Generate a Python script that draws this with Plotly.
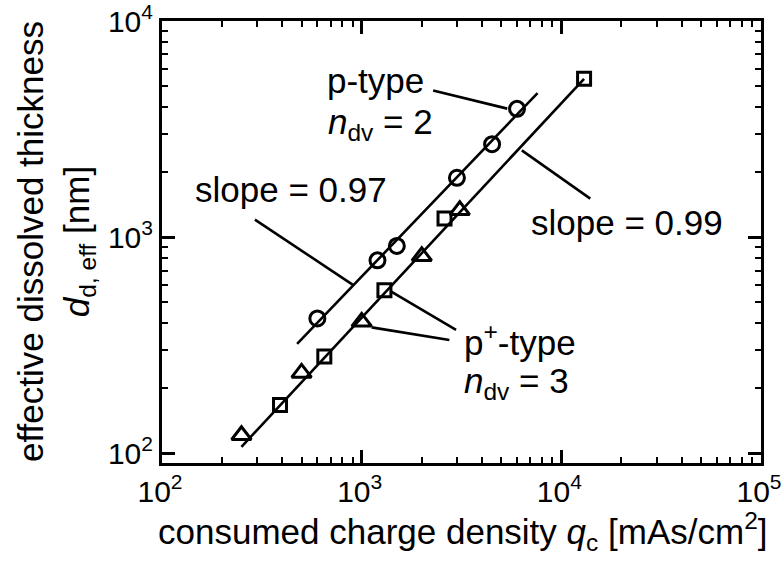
import math
import plotly.graph_objects as go

# ---------------- data ----------------
p_q = [600, 1200, 1500, 3000, 4500, 6000]          # p-type, circles
p_d = [420, 780, 910, 1880, 2690, 3920]

pp_sq_q = [390, 650, 1300, 2600, 13000]            # p+-type, squares
pp_sq_d = [167, 280, 568, 1220, 5400]

pp_tr_q = [250, 500, 1000, 2000, 3100]             # p+-type, triangles
pp_tr_d = [121, 235, 405, 815, 1330]

fit_p_q = [475, 7600]                              # slope 0.97 line
fit_p_d = [320, 4640]
fit_pp_q = [250, 13000]                            # slope 0.99 line
fit_pp_d = [107, 5400]

# leader lines of the labels
lead_ptype_q = [2280, 5360];  lead_ptype_d = [4770, 3930]
lead_s97_q = [292, 908];      lead_s97_d = [1205, 599]
lead_s99_q = [6340, 13960];   lead_s99_d = [2520, 1507]
lead_sq_q = [1413, 2970];     lead_sq_d = [557, 372]
lead_tr_q = [1122, 2750];     lead_tr_d = [382, 334]

x_major = [1e2, 1e3, 1e4, 1e5]
x_ticktext = ["10<sup>2</sup>", "10<sup>3</sup>", "10<sup>4</sup>", "10<sup>5</sup>"]
y_major = [1e2, 1e3, 1e4]
y_ticktext = ["10<sup>2</sup>", "10<sup>3</sup>", "10<sup>4</sup>"]
x_minor = [m * d for d in (1e2, 1e3, 1e4) for m in range(2, 10)]
y_minor = [m * d for d in (1e1, 1e2, 1e3) for m in range(2, 10)]

# ---------------- figure ----------------
W, H = 782, 561
L, R, T, B = 162, 21, 21, 98
PW, PH = W - L - R, H - T - B

def px(x):
    return (x - L) / PW

def py(y):
    return (H - B - y) / PH

FONT = "Arial, Liberation Sans, sans-serif"
FS = 35
fig = go.Figure()

line_style = dict(color="black", width=2.6)
for q, d in [(fit_p_q, fit_p_d), (fit_pp_q, fit_pp_d),
             (lead_ptype_q, lead_ptype_d), (lead_s97_q, lead_s97_d),
             (lead_s99_q, lead_s99_d), (lead_sq_q, lead_sq_d),
             (lead_tr_q, lead_tr_d)]:
    fig.add_trace(go.Scatter(x=q, y=d, mode="lines", line=line_style,
                             showlegend=False, hoverinfo="skip"))

fig.add_trace(go.Scatter(x=p_q, y=p_d, mode="markers", showlegend=False,
                         marker=dict(symbol="circle-open", size=15, color="black",
                                     line=dict(width=3, color="black"))))
fig.add_trace(go.Scatter(x=pp_sq_q, y=pp_sq_d, mode="markers", showlegend=False,
                         marker=dict(symbol="square-open", size=13, color="black",
                                     line=dict(width=3, color="black"))))
fig.add_trace(go.Scatter(x=pp_tr_q, y=pp_tr_d, mode="markers", showlegend=False,
                         marker=dict(symbol="triangle-up-open", size=17, color="black",
                                     line=dict(width=3, color="black"))))

# invisible anchors so the extra tick axes are drawn
for xa, ya in [("x2", "y"), ("x3", "y"), ("x4", "y"), ("x", "y2"), ("x", "y3"), ("x", "y4")]:
    fig.add_trace(go.Scatter(x=[1000], y=[1000], xaxis=xa, yaxis=ya, mode="markers",
                             marker=dict(opacity=0), showlegend=False, hoverinfo="skip"))

XR = [2, 5]
YR = [math.log10(90), 4]
base = dict(type="log", showgrid=False, zeroline=False, ticks="inside",
            tickcolor="black", tickmode="array", automargin=False)
TICKFONT = dict(family=FONT, size=30, color="black")

fig.update_layout(
    xaxis=dict(**base, range=XR, tickvals=x_major, ticktext=x_ticktext,
               ticklen=13, tickwidth=2.5, showline=True, linecolor="black",
               linewidth=3, mirror=True, ticklabeloverflow="allow",
               ticklabelshift=-2, tickfont=TICKFONT),
    xaxis2=dict(**base, range=XR, tickvals=x_minor, ticklen=6, tickwidth=2,
                overlaying="x", side="bottom", anchor="y", showticklabels=False),
    xaxis3=dict(**base, range=XR, tickvals=x_major, ticklen=13, tickwidth=2.5,
                overlaying="x", side="top", anchor="y", showticklabels=False),
    xaxis4=dict(**base, range=XR, tickvals=x_minor, ticklen=6, tickwidth=2,
                overlaying="x", side="top", anchor="y", showticklabels=False),
    yaxis=dict(**base, range=YR, tickvals=y_major, ticktext=y_ticktext,
               ticklen=13, tickwidth=2.5, showline=True, linecolor="black",
               linewidth=3, mirror=True, ticklabeloverflow="allow",
               tickfont=TICKFONT),
    yaxis2=dict(**base, range=YR, tickvals=y_minor, ticklen=6, tickwidth=2,
                overlaying="y", side="left", anchor="x", showticklabels=False),
    yaxis3=dict(**base, range=YR, tickvals=y_major, ticklen=13, tickwidth=2.5,
                overlaying="y", side="right", anchor="x", showticklabels=False),
    yaxis4=dict(**base, range=YR, tickvals=y_minor, ticklen=6, tickwidth=2,
                overlaying="y", side="right", anchor="x", showticklabels=False),
)

ann_font = dict(family=FONT, size=FS, color="black")
anns = [
    ("p-type", 375, 81, "center"),
    ("<i>n</i><sub>dv</sub> = 2", 326, 124, "left"),
    ("slope = 0.97", 193, 189, "left"),
    ("slope = 0.99", 529, 222, "left"),
    ("p<sup>+</sup>-type", 462, 340, "left"),
    ("<i>n</i><sub>dv</sub> = 3", 462, 383, "left"),
]
for text, x, y, xa in anns:
    fig.add_annotation(text=text, x=px(x), y=py(y), xref="paper", yref="paper",
                       xanchor=xa, yanchor="middle", showarrow=False, font=ann_font)

fig.add_annotation(text="consumed charge density <i>q</i><sub>c</sub> [mAs/cm<sup>2</sup>]",
                   x=px(463), y=py(531), xref="paper", yref="paper",
                   xanchor="center", yanchor="middle", showarrow=False, font=ann_font)
fig.add_annotation(text="effective dissolved thickness<br><i>d</i><sub>d, eff</sub> [nm]",
                   x=px(56), y=py(242), xref="paper", yref="paper",
                   xanchor="center", yanchor="middle", textangle=-90,
                   showarrow=False, font=ann_font)

fig.update_layout(width=W, height=H,
                  margin=dict(l=L, r=R, t=T, b=B, pad=0, autoexpand=False),
                  paper_bgcolor="white", plot_bgcolor="white",
                  font=dict(family=FONT, color="black"))

fig.write_html("out.html")
